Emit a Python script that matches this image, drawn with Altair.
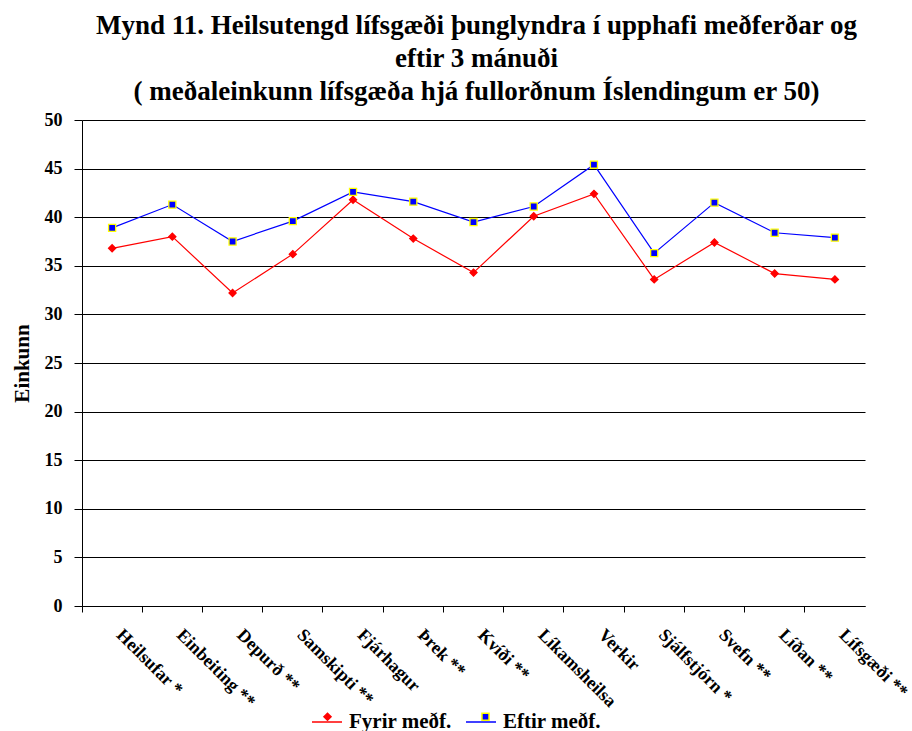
import altair as alt
import pandas as pd

# Subscales of the quality-of-life questionnaire (x axis)
flokkar = [
    "Heilsufar *", "Einbeiting **", "Depurð **", "Samskipti **", "Fjárhagur",
    "Þrek **", "Kvíði **", "Líkamsheilsa", "Verkir", "Sjálfstjórn *",
    "Svefn **", "Líðan **", "Lífsgæði **",
]

# Mean scores before and after 3 months of treatment
fyrir = [36.8, 38.0, 32.2, 36.2, 41.8, 37.8, 34.3, 40.1, 42.4, 33.6, 37.4, 34.2, 33.6]
eftir = [38.9, 41.3, 37.5, 39.6, 42.6, 41.6, 39.5, 41.1, 45.4, 36.3, 41.5, 38.4, 37.9]

hopar = ["Fyrir meðf.", "Eftir meðf."]
litir = ["#ff0000", "#0000ff"]
jadar = ["#ff0000", "#ffff00"]
form = ["diamond", "square"]

rows = []
for hopur, gildi in zip(hopar, [fyrir, eftir]):
    for f, v in zip(flokkar, gildi):
        rows.append({"Flokkur": f, "Hopur": hopur, "Hopur2": hopur, "Einkunn": v})
df = pd.DataFrame(rows)

FONT = "Liberation Serif"
LEG_X, LEG_Y = 229, 586
LEG_FONT = 21

x_enc = alt.X(
    "Flokkur:N",
    sort=flokkar,
    bandPosition=0.5,
    scale=alt.Scale(type="band", paddingInner=0, paddingOuter=0),
    axis=alt.Axis(
        title=None,
        bandPosition=0,
        labelAngle=45,
        labelAlign="left",
        labelBaseline="middle",
        labelOffset=7,
        labelPadding=20,
        labelFont=FONT,
        labelFontWeight="bold",
        labelFontSize=18,
        labelColor="black",
        labelLimit=300,
        domainColor="black",
        tickColor="black",
        tickSize=6,
        grid=False,
    ),
)

y_enc = alt.Y(
    "Einkunn:Q",
    scale=alt.Scale(domain=[0, 50]),
    axis=alt.Axis(
        title="Einkunn",
        values=list(range(0, 51, 5)),
        titleFont=FONT,
        titleFontWeight="bold",
        titleFontSize=21,
        titleColor="black",
        titlePadding=12,
        labelFont=FONT,
        labelFontWeight="bold",
        labelFontSize=18,
        labelColor="black",
        labelPadding=12,
        domainColor="black",
        tickColor="black",
        tickSize=8,
        gridColor="black",
        gridWidth=1,
        gridOpacity=1,
    ),
)

base = alt.Chart(df).encode(x=x_enc, y=y_enc)

# Legend for the line strokes (carries the labels)
linur = base.mark_line(strokeWidth=1.2).encode(
    color=alt.Color(
        "Hopur:N",
        sort=hopar,
        scale=alt.Scale(range=litir),
        legend=alt.Legend(
            title=None,
            orient="none",
            direction="horizontal",
            legendX=LEG_X,
            legendY=LEG_Y,
            symbolType="stroke",
            symbolSize=900,
            symbolStrokeWidth=1.5,
            labelFont=FONT,
            labelFontWeight="bold",
            labelFontSize=LEG_FONT,
            labelColor="black",
            labelOffset=6,
            columnPadding=11,
        ),
    )
)

# Legend for the markers, laid over the stroke legend with hidden labels
marker_legend = alt.Legend(
    title=None,
    orient="none",
    direction="horizontal",
    legendX=LEG_X,
    legendY=LEG_Y,
    symbolSize=50,
    symbolStrokeWidth=1.5,
    symbolOffset=6,
    labelFont=FONT,
    labelFontWeight="bold",
    labelFontSize=LEG_FONT,
    labelOpacity=0,
    labelOffset=17,
    columnPadding=11,
)

punktar = base.mark_point(filled=True, opacity=1).encode(
    shape=alt.Shape(
        "Hopur2:N",
        scale=alt.Scale(domain=hopar, range=form),
        legend=marker_legend,
    ),
    fill=alt.Fill(
        "Hopur2:N",
        scale=alt.Scale(domain=hopar, range=litir),
        legend=marker_legend,
    ),
    stroke=alt.Stroke(
        "Hopur2:N",
        scale=alt.Scale(domain=hopar, range=jadar),
        legend=marker_legend,
    ),
    size=alt.value(50),
    strokeWidth=alt.value(1.3),
)

chart = (
    alt.layer(linur, punktar)
    .properties(
        width=783,
        height=486,
        autosize=alt.AutoSizeParams(type="none"),
        padding={"left": 82, "top": 120, "right": 47, "bottom": 125},
        background="white",
        title=alt.TitleParams(
            text=[
                "Mynd 11. Heilsutengd lífsgæði þunglyndra í upphafi meðferðar og",
                "eftir 3 mánuði",
                "( meðaleinkunn  lífsgæða hjá fullorðnum Íslendingum er 50)",
            ],
            font=FONT,
            fontSize=27,
            fontWeight="bold",
            color="black",
            anchor="middle",
            dx=3,
            offset=5,
            lineHeight=33,
        ),
    )
    .configure_view(stroke=None)
)

chart.save("out.html", embed_options={"renderer": "svg", "actions": False})
